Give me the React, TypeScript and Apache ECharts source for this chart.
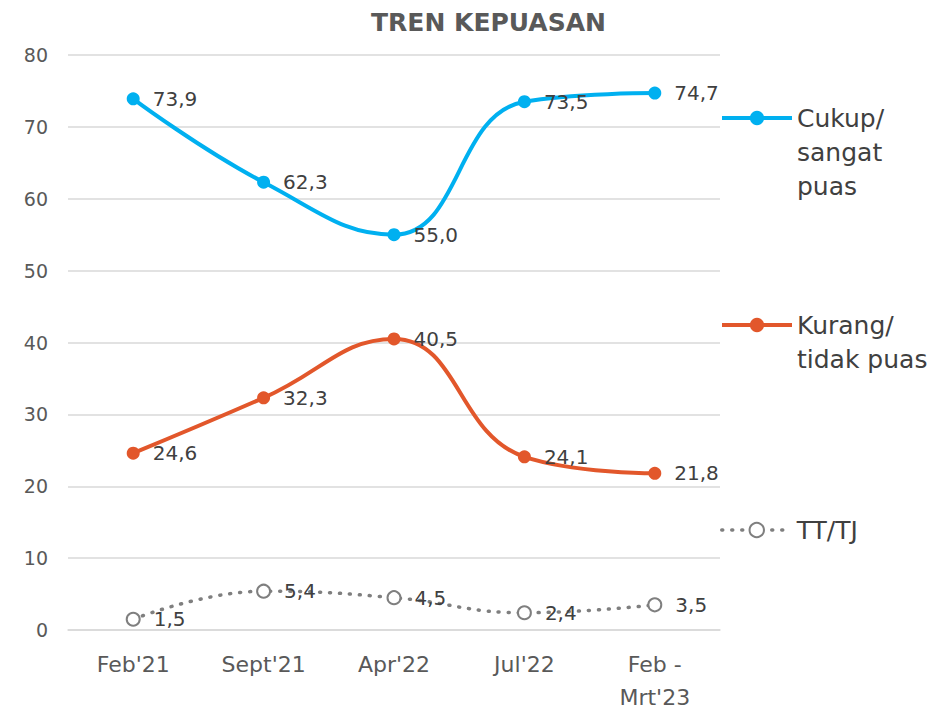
import React, { useEffect, useRef } from "react";
import * as echarts from "echarts";

const categories = ["Feb'21", "Sept'21", "Apr'22", "Jul'22", "Feb -\nMrt'23"];
const seriesNames = ["Cukup/\nsangat\npuas", "Kurang/\ntidak puas", "TT/TJ"];
const cukupPuas = [73.9, 62.3, 55.0, 73.5, 74.7];
const kurangPuas = [24.6, 32.3, 40.5, 24.1, 21.8];
const ttTj = [1.5, 5.4, 4.5, 2.4, 3.5];
const colors = ["#00B0F0", "#E2572B", "#7F7F7F"];

const FONT = "DejaVu Sans";

export default function App() {
  const ref = useRef<HTMLDivElement>(null);
  useEffect(() => {
    if (!ref.current) return;
    const chart = echarts.init(ref.current, null, { renderer: "svg" });
    const fmt = (p: any) => Number(p.value).toFixed(1).replace(".", ",");
    const label = {
      show: true,
      position: "right",
      distance: 13,
      formatter: fmt,
      color: "#404040",
      fontSize: 20,
      fontFamily: FONT,
    };
    const LH = 34;
    const legendBase = (
      name: string,
      iconY: number,
      lines: number,
      lineWidth: number
    ) => {
      const total = lines + (lines - 1);
      return {
        left: 720,
        top: iconY - (total * LH) / 2,
        padding: 0,
        itemWidth: 70,
        itemHeight: 18,
        data: [name],
        selectedMode: false,
        formatter: (n: string) => "\n".repeat(lines - 1) + n,
        lineStyle: { width: lineWidth },
        textStyle: {
          color: "#404040",
          fontSize: 25,
          fontFamily: FONT,
          lineHeight: LH,
        },
      };
    };
    chart.setOption({
      animation: false,
      backgroundColor: "#ffffff",
      title: {
        text: "TREN KEPUASAN",
        left: 366,
        top: 5,
        textStyle: {
          color: "#595959",
          fontSize: 25,
          fontWeight: "bold",
          fontFamily: FONT,
        },
      },
      legend: [
        legendBase(seriesNames[0], 118, 3, 4),
        legendBase(seriesNames[1], 325, 2, 4),
        legendBase(seriesNames[2], 530, 1, 3.5),
      ],
      grid: {
        left: 68,
        right: 232,
        top: 55,
        bottom: 79,
        containLabel: false,
        outerBoundsMode: "none",
      },
      xAxis: {
        type: "category",
        data: categories,
        boundaryGap: true,
        axisLine: { show: true, lineStyle: { color: "#D9D9D9", width: 1.5 } },
        axisTick: { show: false },
        axisLabel: {
          color: "#595959",
          fontSize: 22,
          fontFamily: FONT,
          lineHeight: 33,
          margin: 18,
        },
      },
      yAxis: {
        type: "value",
        min: 0,
        max: 80,
        interval: 10,
        axisLine: { show: false },
        axisTick: { show: false },
        axisLabel: {
          color: "#595959",
          fontSize: 19,
          fontFamily: FONT,
          margin: 20,
        },
        splitLine: { lineStyle: { color: "#D9D9D9", width: 1.5 } },
      },
      series: [
        {
          name: seriesNames[0],
          type: "line",
          data: cukupPuas,
          smooth: 0.45,
          smoothConstraint: false,
          symbol: "circle",
          symbolSize: 13,
          color: colors[0],
          lineStyle: { width: 4, color: colors[0] },
          itemStyle: { color: colors[0] },
          label,
        },
        {
          name: seriesNames[1],
          type: "line",
          data: kurangPuas,
          smooth: 0.45,
          smoothConstraint: false,
          symbol: "circle",
          symbolSize: 13,
          color: colors[1],
          lineStyle: { width: 4, color: colors[1] },
          itemStyle: { color: colors[1] },
          label,
        },
        {
          name: seriesNames[2],
          type: "line",
          data: ttTj,
          smooth: 0.45,
          smoothConstraint: false,
          symbol: "emptyCircle",
          symbolSize: 13,
          color: colors[2],
          lineStyle: { width: 3.5, color: colors[2], type: [1, 9], cap: "round" },
          itemStyle: { color: colors[2], borderWidth: 1.5 },
          label,
        },
      ],
    });
    return () => chart.dispose();
  }, []);
  return (
    <div
      ref={ref}
      style={{ position: "fixed", left: 0, top: 0, width: 952, height: 709 }}
    />
  );
}
